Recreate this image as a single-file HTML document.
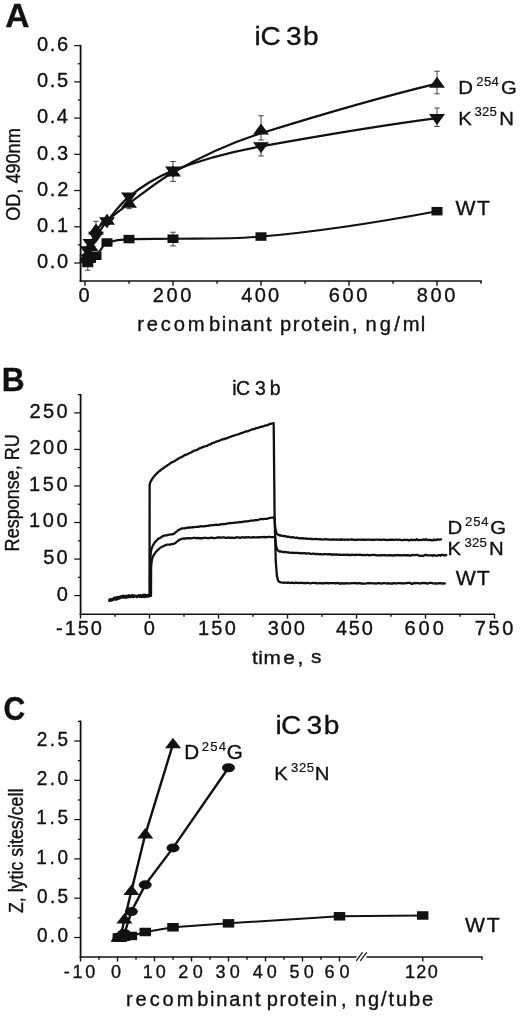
<!DOCTYPE html>
<html><head><meta charset="utf-8"><title>Figure</title>
<style>
html,body{margin:0;padding:0;background:#fff;}
svg{display:block;}
text{font-family:"Liberation Sans",sans-serif;font-kerning:none;white-space:pre;stroke:#111;stroke-width:0.35px;}
</style></head><body>
<svg width="520" height="1020" viewBox="0 0 520 1020">
<rect width="520" height="1020" fill="#fff"/>
<line x1="80.60" y1="44.90" x2="80.60" y2="281.90" stroke="#111" stroke-width="1.8" stroke-linecap="butt"/>
<line x1="79.70" y1="281.00" x2="481.90" y2="281.00" stroke="#111" stroke-width="1.45" stroke-linecap="butt"/>
<line x1="74.20" y1="263.00" x2="80.60" y2="263.00" stroke="#111" stroke-width="1.25" stroke-linecap="butt"/>
<line x1="74.20" y1="226.77" x2="80.60" y2="226.77" stroke="#111" stroke-width="1.25" stroke-linecap="butt"/>
<line x1="74.20" y1="190.54" x2="80.60" y2="190.54" stroke="#111" stroke-width="1.25" stroke-linecap="butt"/>
<line x1="74.20" y1="154.31" x2="80.60" y2="154.31" stroke="#111" stroke-width="1.25" stroke-linecap="butt"/>
<line x1="74.20" y1="118.08" x2="80.60" y2="118.08" stroke="#111" stroke-width="1.25" stroke-linecap="butt"/>
<line x1="74.20" y1="81.85" x2="80.60" y2="81.85" stroke="#111" stroke-width="1.25" stroke-linecap="butt"/>
<line x1="74.20" y1="45.62" x2="80.60" y2="45.62" stroke="#111" stroke-width="1.25" stroke-linecap="butt"/>
<line x1="77.80" y1="244.88" x2="80.60" y2="244.88" stroke="#111" stroke-width="1.25" stroke-linecap="butt"/>
<line x1="77.80" y1="208.65" x2="80.60" y2="208.65" stroke="#111" stroke-width="1.25" stroke-linecap="butt"/>
<line x1="77.80" y1="172.43" x2="80.60" y2="172.43" stroke="#111" stroke-width="1.25" stroke-linecap="butt"/>
<line x1="77.80" y1="136.19" x2="80.60" y2="136.19" stroke="#111" stroke-width="1.25" stroke-linecap="butt"/>
<line x1="77.80" y1="99.97" x2="80.60" y2="99.97" stroke="#111" stroke-width="1.25" stroke-linecap="butt"/>
<line x1="77.80" y1="63.73" x2="80.60" y2="63.73" stroke="#111" stroke-width="1.25" stroke-linecap="butt"/>
<line x1="85.00" y1="281.00" x2="85.00" y2="285.70" stroke="#111" stroke-width="1.4" stroke-linecap="butt"/>
<line x1="173.00" y1="281.00" x2="173.00" y2="285.70" stroke="#111" stroke-width="1.4" stroke-linecap="butt"/>
<line x1="261.00" y1="281.00" x2="261.00" y2="285.70" stroke="#111" stroke-width="1.4" stroke-linecap="butt"/>
<line x1="349.00" y1="281.00" x2="349.00" y2="285.70" stroke="#111" stroke-width="1.4" stroke-linecap="butt"/>
<line x1="437.00" y1="281.00" x2="437.00" y2="285.70" stroke="#111" stroke-width="1.4" stroke-linecap="butt"/>
<line x1="129.00" y1="281.00" x2="129.00" y2="283.80" stroke="#111" stroke-width="1.4" stroke-linecap="butt"/>
<line x1="217.00" y1="281.00" x2="217.00" y2="283.80" stroke="#111" stroke-width="1.4" stroke-linecap="butt"/>
<line x1="305.00" y1="281.00" x2="305.00" y2="283.80" stroke="#111" stroke-width="1.4" stroke-linecap="butt"/>
<line x1="393.00" y1="281.00" x2="393.00" y2="283.80" stroke="#111" stroke-width="1.4" stroke-linecap="butt"/>
<line x1="481.00" y1="281.00" x2="481.00" y2="283.80" stroke="#111" stroke-width="1.4" stroke-linecap="butt"/>
<text transform="translate(36.97,268.40) scale(1.0000,1)" font-size="20" font-weight="normal" letter-spacing="1.630" fill="#111" >0.0</text>
<text transform="translate(36.97,232.17) scale(1.0000,1)" font-size="20" font-weight="normal" letter-spacing="1.728" fill="#111" >0.1</text>
<text transform="translate(36.97,195.94) scale(1.0000,1)" font-size="20" font-weight="normal" letter-spacing="1.742" fill="#111" >0.2</text>
<text transform="translate(36.97,159.71) scale(1.0000,1)" font-size="20" font-weight="normal" letter-spacing="1.679" fill="#111" >0.3</text>
<text transform="translate(36.97,123.48) scale(1.0000,1)" font-size="20" font-weight="normal" letter-spacing="1.532" fill="#111" >0.4</text>
<text transform="translate(36.97,87.25) scale(1.0000,1)" font-size="20" font-weight="normal" letter-spacing="1.659" fill="#111" >0.5</text>
<text transform="translate(36.97,51.02) scale(1.0000,1)" font-size="20" font-weight="normal" letter-spacing="1.679" fill="#111" >0.6</text>
<text transform="translate(78.44,302.30) scale(1.0000,1)" font-size="20" font-weight="normal" letter-spacing="0.000" fill="#111" >0</text>
<text transform="translate(152.79,302.30) scale(1.0000,1)" font-size="20" font-weight="normal" letter-spacing="2.609" fill="#111" >200</text>
<text transform="translate(241.34,302.30) scale(1.0000,1)" font-size="20" font-weight="normal" letter-spacing="2.236" fill="#111" >400</text>
<text transform="translate(328.78,302.30) scale(1.0000,1)" font-size="20" font-weight="normal" letter-spacing="2.614" fill="#111" >600</text>
<text transform="translate(416.73,302.30) scale(1.0000,1)" font-size="20" font-weight="normal" letter-spacing="2.641" fill="#111" >800</text>
<text transform="scale(1.04,1)" font-weight="normal" fill="#111" ><tspan x="131.88" y="330.60" font-size="19.4" letter-spacing="2.744">recom</tspan><tspan x="201.06" y="330.60" font-size="19.4" letter-spacing="1.433">binant prot</tspan><tspan x="308.89" y="330.60" font-size="19.4" letter-spacing="0.598">ein</tspan><tspan x="338.36" y="330.60" font-size="19.4" letter-spacing="0.000">, </tspan><tspan x="351.50" y="330.60" font-size="19.4" letter-spacing="2.954">ng/m</tspan><tspan x="404.57" y="330.60" font-size="19.4" letter-spacing="0.000">l</tspan></text>
<text transform="translate(19.80,220.00) rotate(-90) translate(-0.86,0.00) scale(0.9060,1)" font-size="20" font-weight="normal" letter-spacing="0.000" fill="#111" >OD, 490nm</text>
<text transform="scale(1.08,1)" font-weight="normal" fill="#111" ><tspan x="235.67" y="45.10" font-size="26" letter-spacing="-0.342">iC</tspan><tspan x="264.79" y="45.10" font-size="26" letter-spacing="0.000">3</tspan><tspan x="280.63" y="45.10" font-size="26" letter-spacing="0.000">b</tspan></text>
<text transform="translate(5.16,26.50) scale(1.0011,1)" font-size="33.5" font-weight="bold" letter-spacing="0.000" fill="#111" >A</text>
<line x1="437.00" y1="71.25" x2="437.00" y2="93.75" stroke="#333" stroke-width="0.9" stroke-linecap="butt"/>
<line x1="434.25" y1="71.25" x2="439.75" y2="71.25" stroke="#333" stroke-width="0.9" stroke-linecap="butt"/>
<line x1="434.25" y1="93.75" x2="439.75" y2="93.75" stroke="#333" stroke-width="0.9" stroke-linecap="butt"/>
<line x1="437.00" y1="108.00" x2="437.00" y2="126.50" stroke="#333" stroke-width="0.9" stroke-linecap="butt"/>
<line x1="434.25" y1="108.00" x2="439.75" y2="108.00" stroke="#333" stroke-width="0.9" stroke-linecap="butt"/>
<line x1="434.25" y1="126.50" x2="439.75" y2="126.50" stroke="#333" stroke-width="0.9" stroke-linecap="butt"/>
<line x1="261.00" y1="115.75" x2="261.00" y2="140.00" stroke="#333" stroke-width="0.9" stroke-linecap="butt"/>
<line x1="258.25" y1="115.75" x2="263.75" y2="115.75" stroke="#333" stroke-width="0.9" stroke-linecap="butt"/>
<line x1="258.25" y1="140.00" x2="263.75" y2="140.00" stroke="#333" stroke-width="0.9" stroke-linecap="butt"/>
<line x1="261.00" y1="143.00" x2="261.00" y2="156.00" stroke="#333" stroke-width="0.9" stroke-linecap="butt"/>
<line x1="258.25" y1="143.00" x2="263.75" y2="143.00" stroke="#333" stroke-width="0.9" stroke-linecap="butt"/>
<line x1="258.25" y1="156.00" x2="263.75" y2="156.00" stroke="#333" stroke-width="0.9" stroke-linecap="butt"/>
<line x1="173.00" y1="161.56" x2="173.00" y2="181.48" stroke="#333" stroke-width="0.9" stroke-linecap="butt"/>
<line x1="170.25" y1="161.56" x2="175.75" y2="161.56" stroke="#333" stroke-width="0.9" stroke-linecap="butt"/>
<line x1="170.25" y1="181.48" x2="175.75" y2="181.48" stroke="#333" stroke-width="0.9" stroke-linecap="butt"/>
<line x1="173.00" y1="232.20" x2="173.00" y2="245.97" stroke="#333" stroke-width="0.9" stroke-linecap="butt"/>
<line x1="170.25" y1="232.20" x2="175.75" y2="232.20" stroke="#333" stroke-width="0.9" stroke-linecap="butt"/>
<line x1="170.25" y1="245.97" x2="175.75" y2="245.97" stroke="#333" stroke-width="0.9" stroke-linecap="butt"/>
<line x1="129.00" y1="235.83" x2="129.00" y2="241.99" stroke="#333" stroke-width="0.9" stroke-linecap="butt"/>
<line x1="126.25" y1="235.83" x2="131.75" y2="235.83" stroke="#333" stroke-width="0.9" stroke-linecap="butt"/>
<line x1="126.25" y1="241.99" x2="131.75" y2="241.99" stroke="#333" stroke-width="0.9" stroke-linecap="butt"/>
<line x1="129.00" y1="194.16" x2="129.00" y2="208.66" stroke="#333" stroke-width="0.9" stroke-linecap="butt"/>
<line x1="126.25" y1="194.16" x2="131.75" y2="194.16" stroke="#333" stroke-width="0.9" stroke-linecap="butt"/>
<line x1="126.25" y1="208.66" x2="131.75" y2="208.66" stroke="#333" stroke-width="0.9" stroke-linecap="butt"/>
<line x1="96.00" y1="221.34" x2="96.00" y2="237.64" stroke="#333" stroke-width="0.9" stroke-linecap="butt"/>
<line x1="93.25" y1="221.34" x2="98.75" y2="221.34" stroke="#333" stroke-width="0.9" stroke-linecap="butt"/>
<line x1="93.25" y1="237.64" x2="98.75" y2="237.64" stroke="#333" stroke-width="0.9" stroke-linecap="butt"/>
<line x1="87.75" y1="255.75" x2="87.75" y2="270.25" stroke="#333" stroke-width="0.9" stroke-linecap="butt"/>
<line x1="85.00" y1="255.75" x2="90.50" y2="255.75" stroke="#333" stroke-width="0.9" stroke-linecap="butt"/>
<line x1="85.00" y1="270.25" x2="90.50" y2="270.25" stroke="#333" stroke-width="0.9" stroke-linecap="butt"/>
<path d="M80.60,261.91 C82.98,263.00 85.37,263.00 87.75,263.00 C88.67,263.00 89.58,259.42 90.50,258.65 C92.33,257.12 94.17,257.04 96.00,255.75 C99.67,253.18 103.33,243.59 107.00,242.49 C114.33,240.29 121.67,239.22 129.00,239.09 C143.67,238.83 158.33,238.90 173.00,238.73 C202.33,238.38 231.67,239.09 261.00,236.55 C319.67,231.49 378.33,222.21 437.00,211.19" fill="none" stroke="#111" stroke-width="2.1" stroke-linejoin="round" stroke-linecap="round"/>
<path d="M80.60,260.10 C82.98,260.10 85.37,258.48 87.75,255.75 C88.67,254.71 89.58,249.57 90.50,246.70 C92.33,240.94 94.17,233.06 96.00,230.39 C99.67,225.06 103.33,223.67 107.00,220.61 C114.33,214.49 121.67,209.03 129.00,203.58 C143.67,192.68 158.33,180.65 173.00,172.43 C202.33,155.98 231.67,142.41 261.00,133.30 C319.67,115.06 378.33,97.66 437.00,83.66" fill="none" stroke="#111" stroke-width="2.2" stroke-linejoin="round" stroke-linecap="round"/>
<path d="M80.60,255.75 C82.98,255.75 85.37,253.38 87.75,250.32 C88.67,249.14 89.58,244.75 90.50,243.07 C92.33,239.73 94.17,238.24 96.00,235.83 C99.67,231.00 103.33,225.81 107.00,221.34 C114.33,212.38 121.67,202.59 129.00,196.70 C143.67,184.93 158.33,176.37 173.00,170.61 C202.33,159.10 231.67,151.62 261.00,146.34 C319.67,135.78 378.33,125.70 437.00,118.08" fill="none" stroke="#111" stroke-width="2.2" stroke-linejoin="round" stroke-linecap="round"/>
<rect x="82.25" y="258.75" width="11" height="8.5" fill="#111"/>
<rect x="85.00" y="254.40" width="11" height="8.5" fill="#111"/>
<rect x="90.50" y="251.50" width="11" height="8.5" fill="#111"/>
<rect x="101.50" y="238.24" width="11" height="8.5" fill="#111"/>
<rect x="123.50" y="234.84" width="11" height="8.5" fill="#111"/>
<rect x="167.50" y="234.48" width="11" height="8.5" fill="#111"/>
<rect x="255.50" y="232.30" width="11" height="8.5" fill="#111"/>
<rect x="431.50" y="206.94" width="11" height="8.5" fill="#111"/>
<polygon points="87.75,248.93 95.75,259.93 79.75,259.93" fill="#111"/>
<polygon points="90.50,239.88 98.50,250.88 82.50,250.88" fill="#111"/>
<polygon points="96.00,223.57 104.00,234.57 88.00,234.57" fill="#111"/>
<polygon points="107.00,213.79 115.00,224.79 99.00,224.79" fill="#111"/>
<polygon points="129.00,196.76 137.00,207.76 121.00,207.76" fill="#111"/>
<polygon points="173.00,165.61 181.00,176.61 165.00,176.61" fill="#111"/>
<polygon points="261.00,123.58 269.00,134.58 253.00,134.58" fill="#111"/>
<polygon points="437.00,76.84 445.00,87.84 429.00,87.84" fill="#111"/>
<polygon points="87.75,257.14 95.75,246.14 79.75,246.14" fill="#111"/>
<polygon points="90.50,249.89 98.50,238.89 82.50,238.89" fill="#111"/>
<polygon points="96.00,242.65 104.00,231.65 88.00,231.65" fill="#111"/>
<polygon points="107.00,228.16 115.00,217.16 99.00,217.16" fill="#111"/>
<polygon points="129.00,203.52 137.00,192.52 121.00,192.52" fill="#111"/>
<polygon points="173.00,177.43 181.00,166.43 165.00,166.43" fill="#111"/>
<polygon points="261.00,153.16 269.00,142.16 253.00,142.16" fill="#111"/>
<polygon points="437.00,124.90 445.00,113.90 429.00,113.90" fill="#111"/>
<text transform="scale(1.06,1)" font-weight="normal" fill="#111" ><tspan x="432.39" y="93.70" font-size="19.2" letter-spacing="0.000">D</tspan><tspan x="449.28" y="85.80" font-size="12.4" letter-spacing="0.338" style="stroke-width:0.2px">254</tspan><tspan x="472.73" y="93.70" font-size="19.2" letter-spacing="0.000">G</tspan></text>
<text transform="scale(1.06,1)" font-weight="normal" fill="#111" ><tspan x="432.39" y="124.70" font-size="19.2" letter-spacing="0.000">K</tspan><tspan x="447.74" y="116.50" font-size="12.4" letter-spacing="0.105" style="stroke-width:0.2px">325</tspan><tspan x="471.00" y="124.70" font-size="19.2" letter-spacing="0.000">N</tspan></text>
<text transform="translate(455.41,215.00) scale(1.0600,1)" font-size="20" font-weight="normal" letter-spacing="1.529" fill="#111" >WT</text>
<line x1="80.60" y1="394.00" x2="80.60" y2="615.10" stroke="#111" stroke-width="1.8" stroke-linecap="butt"/>
<line x1="79.70" y1="614.20" x2="495.20" y2="614.20" stroke="#111" stroke-width="1.45" stroke-linecap="butt"/>
<line x1="74.20" y1="595.60" x2="80.60" y2="595.60" stroke="#111" stroke-width="1.25" stroke-linecap="butt"/>
<line x1="74.20" y1="559.06" x2="80.60" y2="559.06" stroke="#111" stroke-width="1.25" stroke-linecap="butt"/>
<line x1="74.20" y1="522.52" x2="80.60" y2="522.52" stroke="#111" stroke-width="1.25" stroke-linecap="butt"/>
<line x1="74.20" y1="485.98" x2="80.60" y2="485.98" stroke="#111" stroke-width="1.25" stroke-linecap="butt"/>
<line x1="74.20" y1="449.44" x2="80.60" y2="449.44" stroke="#111" stroke-width="1.25" stroke-linecap="butt"/>
<line x1="74.20" y1="412.90" x2="80.60" y2="412.90" stroke="#111" stroke-width="1.25" stroke-linecap="butt"/>
<line x1="77.80" y1="577.33" x2="80.60" y2="577.33" stroke="#111" stroke-width="1.25" stroke-linecap="butt"/>
<line x1="77.80" y1="540.79" x2="80.60" y2="540.79" stroke="#111" stroke-width="1.25" stroke-linecap="butt"/>
<line x1="77.80" y1="504.25" x2="80.60" y2="504.25" stroke="#111" stroke-width="1.25" stroke-linecap="butt"/>
<line x1="77.80" y1="467.71" x2="80.60" y2="467.71" stroke="#111" stroke-width="1.25" stroke-linecap="butt"/>
<line x1="77.80" y1="431.17" x2="80.60" y2="431.17" stroke="#111" stroke-width="1.25" stroke-linecap="butt"/>
<line x1="77.80" y1="394.63" x2="80.60" y2="394.63" stroke="#111" stroke-width="1.25" stroke-linecap="butt"/>
<line x1="80.50" y1="614.20" x2="80.50" y2="618.60" stroke="#111" stroke-width="1.4" stroke-linecap="butt"/>
<line x1="149.50" y1="614.20" x2="149.50" y2="618.60" stroke="#111" stroke-width="1.4" stroke-linecap="butt"/>
<line x1="218.50" y1="614.20" x2="218.50" y2="618.60" stroke="#111" stroke-width="1.4" stroke-linecap="butt"/>
<line x1="287.50" y1="614.20" x2="287.50" y2="618.60" stroke="#111" stroke-width="1.4" stroke-linecap="butt"/>
<line x1="356.50" y1="614.20" x2="356.50" y2="618.60" stroke="#111" stroke-width="1.4" stroke-linecap="butt"/>
<line x1="425.50" y1="614.20" x2="425.50" y2="618.60" stroke="#111" stroke-width="1.4" stroke-linecap="butt"/>
<line x1="494.50" y1="614.20" x2="494.50" y2="618.60" stroke="#111" stroke-width="1.4" stroke-linecap="butt"/>
<line x1="115.00" y1="614.20" x2="115.00" y2="616.80" stroke="#111" stroke-width="1.4" stroke-linecap="butt"/>
<line x1="184.00" y1="614.20" x2="184.00" y2="616.80" stroke="#111" stroke-width="1.4" stroke-linecap="butt"/>
<line x1="253.00" y1="614.20" x2="253.00" y2="616.80" stroke="#111" stroke-width="1.4" stroke-linecap="butt"/>
<line x1="322.00" y1="614.20" x2="322.00" y2="616.80" stroke="#111" stroke-width="1.4" stroke-linecap="butt"/>
<line x1="391.00" y1="614.20" x2="391.00" y2="616.80" stroke="#111" stroke-width="1.4" stroke-linecap="butt"/>
<line x1="460.00" y1="614.20" x2="460.00" y2="616.80" stroke="#111" stroke-width="1.4" stroke-linecap="butt"/>
<text transform="translate(29.59,417.80) scale(1.0000,1)" font-size="20" font-weight="normal" letter-spacing="2.359" fill="#111" >250</text>
<text transform="translate(29.59,454.34) scale(1.0000,1)" font-size="20" font-weight="normal" letter-spacing="2.359" fill="#111" >200</text>
<text transform="translate(29.08,490.88) scale(1.0000,1)" font-size="20" font-weight="normal" letter-spacing="2.618" fill="#111" >150</text>
<text transform="translate(29.08,527.42) scale(1.0000,1)" font-size="20" font-weight="normal" letter-spacing="2.618" fill="#111" >100</text>
<text transform="translate(43.20,563.96) scale(1.0000,1)" font-size="20" font-weight="normal" letter-spacing="2.236" fill="#111" >50</text>
<text transform="translate(56.64,600.50) scale(1.0000,1)" font-size="20" font-weight="normal" letter-spacing="0.000" fill="#111" >0</text>
<text transform="translate(56.11,634.60) scale(1.0000,1)" font-size="20" font-weight="normal" letter-spacing="1.880" fill="#111" >-150</text>
<text transform="translate(143.69,634.60) scale(1.0000,1)" font-size="20" font-weight="normal" letter-spacing="0.000" fill="#111" >0</text>
<text transform="translate(197.98,634.60) scale(1.0000,1)" font-size="20" font-weight="normal" letter-spacing="2.218" fill="#111" >150</text>
<text transform="translate(267.74,634.60) scale(1.0000,1)" font-size="20" font-weight="normal" letter-spacing="1.837" fill="#111" >300</text>
<text transform="translate(336.04,634.60) scale(1.0000,1)" font-size="20" font-weight="normal" letter-spacing="1.686" fill="#111" >450</text>
<text transform="translate(404.48,634.60) scale(1.0000,1)" font-size="20" font-weight="normal" letter-spacing="2.964" fill="#111" >600</text>
<text transform="translate(474.72,634.60) scale(1.0000,1)" font-size="20" font-weight="normal" letter-spacing="2.594" fill="#111" >750</text>
<text transform="scale(1.12,1)" font-weight="normal" fill="#111" ><tspan x="225.08" y="663.60" font-size="18.6" letter-spacing="0.410">tim</tspan><tspan x="252.88" y="663.60" font-size="18.6" letter-spacing="0.000">e</tspan><tspan x="265.59" y="663.60" font-size="18.6" letter-spacing="0.000">, </tspan><tspan x="277.70" y="663.50" font-size="18.6" letter-spacing="0.000">s</tspan></text>
<text transform="translate(18.55,549.90) rotate(-90) translate(-1.48,0.00) scale(0.9017,1)" font-size="20" font-weight="normal" letter-spacing="0.000" fill="#111" >Response, RU</text>
<text transform="scale(1.0,1)" font-weight="normal" fill="#111" ><tspan x="232.20" y="394.60" font-size="19.5" letter-spacing="-0.467">iC</tspan><tspan x="255.03" y="394.60" font-size="19.5" letter-spacing="0.000">3</tspan><tspan x="269.66" y="394.60" font-size="19.5" letter-spacing="0.000">b</tspan></text>
<text transform="translate(1.63,391.25) scale(0.9471,1)" font-size="33.5" font-weight="bold" letter-spacing="0.000" fill="#111" >B</text>
<path d="M109.48,599.40 L110.40,599.56 L111.32,599.04 L112.24,599.10 L113.16,598.86 L114.08,597.80 L115.00,597.46 L115.92,598.34 L116.84,597.26 L117.76,596.96 L118.68,597.75 L119.60,596.75 L120.52,596.99 L121.44,596.21 L122.36,596.29 L123.28,595.57 L124.20,596.21 L125.12,596.50 L126.04,595.98 L126.96,596.25 L127.88,596.11 L128.80,595.23 L129.72,596.16 L130.64,595.89 L131.56,595.45 L132.48,595.03 L133.40,596.17 L134.32,595.58 L135.24,595.89 L136.16,596.08 L137.08,595.81 L138.00,596.06 L138.92,595.29 L139.84,595.82 L140.76,595.28 L141.68,595.94 L142.60,595.82 L143.52,594.69 L144.44,594.71 L145.36,594.78 L146.28,595.79 L147.20,595.02 L148.12,595.25 L149.04,594.76 L149.50,595.02 L149.64,484.68 L149.96,483.40 L150.42,482.14 L150.88,481.15 L151.34,480.28 L152.26,478.80 L153.18,477.52 L154.10,476.38 L155.02,475.33 L156.40,473.88 L157.78,472.49 L159.16,471.23 L160.54,470.21 L161.92,469.11 L163.30,468.26 L164.68,467.12 L166.06,466.31 L167.44,465.33 L168.82,464.51 L170.20,463.45 L171.58,462.30 L172.96,461.89 L174.34,461.15 L175.72,460.32 L177.10,459.35 L178.48,458.69 L179.86,457.65 L181.24,457.30 L182.62,456.44 L184.00,455.57 L185.38,454.75 L186.76,454.55 L188.14,453.97 L189.52,452.78 L190.90,452.56 L192.28,451.69 L193.66,450.91 L195.04,450.38 L196.42,450.06 L197.80,449.52 L199.18,448.43 L200.56,448.18 L201.94,447.26 L203.32,447.09 L204.70,446.29 L206.08,446.06 L207.46,445.56 L208.84,444.73 L210.22,444.48 L211.60,443.53 L212.98,442.86 L214.36,442.64 L215.74,441.78 L217.12,441.36 L218.50,440.97 L219.88,440.58 L221.26,439.80 L222.64,439.23 L224.02,439.23 L225.40,438.40 L226.78,438.30 L228.16,437.78 L229.54,436.98 L230.92,436.55 L232.30,436.11 L233.68,435.71 L235.06,435.22 L236.44,434.73 L237.82,434.30 L239.20,434.04 L240.58,433.32 L241.96,432.82 L243.34,432.54 L244.72,431.81 L246.10,431.40 L247.48,431.36 L248.86,430.65 L250.24,430.23 L251.62,429.47 L253.00,429.28 L254.38,428.95 L255.76,428.19 L257.14,428.12 L258.52,427.71 L259.90,426.95 L261.28,426.87 L262.66,426.36 L264.04,426.07 L265.42,425.47 L266.80,425.27 L268.18,424.88 L269.56,424.05 L270.94,423.67 L272.32,423.64 L273.70,423.13 L274.62,518.27 L275.77,561.66 L276.92,575.87 L278.07,580.50 L279.22,581.81 L280.37,582.33 L281.52,582.48 L282.67,582.59 L283.82,582.76 L284.97,582.62 L286.12,582.69 L287.27,582.95 L288.42,582.52 L289.57,582.87 L290.72,582.99 L291.87,582.75 L293.02,582.72 L294.17,583.09 L295.32,582.77 L296.47,582.75 L297.62,582.92 L298.77,583.09 L299.92,582.74 L301.07,582.89 L302.22,582.91 L303.37,583.22 L304.52,583.00 L305.67,583.26 L306.82,582.86 L307.97,582.97 L309.12,583.17 L310.27,583.32 L311.42,583.07 L312.57,582.94 L313.72,582.89 L314.87,583.14 L316.02,582.95 L317.17,583.33 L318.32,583.35 L319.47,582.97 L320.62,583.03 L321.77,583.35 L322.92,583.26 L324.07,583.36 L325.22,583.09 L326.37,582.97 L327.52,583.07 L328.67,583.38 L329.82,583.07 L330.97,583.12 L332.12,583.17 L333.27,583.17 L334.42,583.17 L335.57,583.48 L336.72,583.03 L337.87,582.94 L339.02,583.51 L340.17,583.47 L341.32,583.54 L342.47,583.21 L343.62,583.52 L344.77,583.51 L345.92,583.09 L347.07,583.41 L348.22,583.47 L349.37,583.36 L350.52,583.28 L351.67,583.14 L352.82,583.18 L353.97,583.11 L355.12,583.02 L356.27,583.33 L357.42,583.15 L358.57,583.47 L359.72,583.01 L360.87,583.53 L362.02,583.40 L363.17,583.54 L364.32,583.53 L365.47,583.53 L366.62,583.34 L367.77,583.00 L368.92,583.44 L370.07,583.10 L371.22,583.18 L372.37,583.40 L373.52,583.31 L374.67,583.25 L375.82,583.56 L376.97,583.37 L378.12,583.21 L379.27,583.15 L380.42,583.52 L381.57,583.29 L382.72,583.48 L383.87,583.22 L385.02,583.13 L386.17,583.33 L387.32,583.50 L388.47,583.11 L389.62,583.48 L390.77,583.56 L391.92,583.49 L393.07,583.51 L394.22,583.02 L395.37,583.39 L396.52,583.53 L397.67,583.04 L398.82,583.18 L399.97,583.17 L401.12,583.33 L402.27,583.27 L403.42,583.30 L404.57,583.48 L405.72,583.02 L406.87,583.05 L408.02,582.87 L409.17,582.87 L410.32,582.80 L411.47,583.89 L412.62,583.74 L413.77,582.82 L414.92,583.32 L416.07,583.10 L417.22,583.10 L418.37,583.14 L419.52,583.49 L420.67,583.42 L421.82,583.15 L422.97,582.95 L424.12,583.11 L425.27,582.87 L426.42,583.39 L427.57,583.58 L428.72,583.18 L429.87,582.82 L431.02,582.93 L432.17,583.17 L433.32,583.45 L434.47,583.66 L435.62,583.18 L436.77,583.68 L437.92,583.47 L439.07,583.24 L440.22,583.17 L441.37,583.32 L442.52,583.56 L443.67,583.23 L444.82,583.55" fill="none" stroke="#111" stroke-width="2.3" stroke-linejoin="round" stroke-linecap="round"/>
<path d="M109.48,600.88 L110.40,600.31 L111.32,600.44 L112.24,600.40 L113.16,599.25 L114.08,599.48 L115.00,599.21 L115.92,599.57 L116.84,599.38 L117.76,598.32 L118.68,598.79 L119.60,598.36 L120.52,597.35 L121.44,597.37 L122.36,596.73 L123.28,597.66 L124.20,597.42 L125.12,597.70 L126.04,597.53 L126.96,597.31 L127.88,597.37 L128.80,597.10 L129.72,596.41 L130.64,597.06 L131.56,596.20 L132.48,596.36 L133.40,597.21 L134.32,596.15 L135.24,596.18 L136.16,596.15 L137.08,597.21 L138.00,596.19 L138.92,595.94 L139.84,597.05 L140.76,596.00 L141.68,596.98 L142.60,596.70 L143.52,596.89 L144.44,597.02 L145.36,596.46 L146.28,596.73 L147.20,595.63 L148.12,596.61 L149.04,596.22 L150.24,596.18 L150.37,559.06 L150.70,553.21 L151.16,550.29 L151.62,548.61 L152.08,547.37 L153.00,545.33 L153.92,543.71 L154.84,542.34 L155.76,541.23 L157.14,540.06 L158.52,538.63 L159.90,538.08 L161.28,537.35 L162.66,536.14 L164.04,535.75 L165.42,535.46 L166.80,535.33 L168.18,534.77 L169.56,534.53 L170.94,534.38 L172.32,534.31 L173.70,533.86 L175.08,532.79 L176.46,531.57 L177.84,530.55 L179.22,529.61 L180.60,529.03 L181.98,528.41 L183.36,528.36 L184.74,528.40 L186.12,527.85 L187.50,527.87 L188.88,527.35 L190.26,527.52 L191.64,527.42 L193.02,527.24 L194.40,527.03 L195.78,526.89 L197.16,526.87 L198.54,526.91 L199.92,526.34 L201.30,526.18 L202.68,526.44 L204.06,526.40 L205.44,526.02 L206.82,525.83 L208.20,525.86 L209.58,525.39 L210.96,525.29 L212.34,525.10 L213.72,525.19 L215.10,524.88 L216.48,524.68 L217.86,524.80 L219.24,524.81 L220.62,524.26 L222.00,524.35 L223.38,524.02 L224.76,524.13 L226.14,523.81 L227.52,523.46 L228.90,523.27 L230.28,522.99 L231.66,523.10 L233.04,522.88 L234.42,522.59 L235.80,522.54 L237.18,522.35 L238.56,522.45 L239.94,521.91 L241.32,522.25 L242.70,521.77 L244.08,521.66 L245.46,521.40 L246.84,521.44 L248.22,521.25 L249.60,520.90 L250.98,520.67 L252.36,520.62 L253.74,520.51 L255.12,520.04 L256.50,520.05 L257.88,519.99 L259.26,519.50 L260.64,519.17 L262.02,518.98 L263.40,519.08 L264.78,518.87 L266.16,518.86 L267.54,518.61 L268.92,518.07 L270.30,517.86 L271.68,517.73 L273.06,517.52 L274.44,517.55 L275.36,528.72 L276.51,533.15 L277.66,534.61 L278.81,534.83 L279.96,535.54 L281.11,535.48 L282.26,535.78 L283.41,536.19 L284.56,536.01 L285.71,536.20 L286.86,536.83 L288.01,536.68 L289.16,536.88 L290.31,537.17 L291.46,537.38 L292.61,537.11 L293.76,537.44 L294.91,537.63 L296.06,537.77 L297.21,537.72 L298.36,538.05 L299.51,538.37 L300.66,538.13 L301.81,538.31 L302.96,538.14 L304.11,538.31 L305.26,538.62 L306.41,538.36 L307.56,538.89 L308.71,538.97 L309.86,538.54 L311.01,539.11 L312.16,538.82 L313.31,539.11 L314.46,539.15 L315.61,538.92 L316.76,539.19 L317.91,539.22 L319.06,539.35 L320.21,539.06 L321.36,539.39 L322.51,539.54 L323.66,539.40 L324.81,539.35 L325.96,539.12 L327.11,539.38 L328.26,539.32 L329.41,539.56 L330.56,539.56 L331.71,539.51 L332.86,539.30 L334.01,539.60 L335.16,539.61 L336.31,539.35 L337.46,539.80 L338.61,539.67 L339.76,539.36 L340.91,539.86 L342.06,539.40 L343.21,539.53 L344.36,539.77 L345.51,539.71 L346.66,539.69 L347.81,539.76 L348.96,539.65 L350.11,539.58 L351.26,539.50 L352.41,539.45 L353.56,539.84 L354.71,539.87 L355.86,539.75 L357.01,539.88 L358.16,539.65 L359.31,539.60 L360.46,539.68 L361.61,539.98 L362.76,539.48 L363.91,539.77 L365.06,539.61 L366.21,539.93 L367.36,539.69 L368.51,539.68 L369.66,539.72 L370.81,539.81 L371.96,539.95 L373.11,539.70 L374.26,540.00 L375.41,539.56 L376.56,539.66 L377.71,539.56 L378.86,539.57 L380.01,539.97 L381.16,539.94 L382.31,539.62 L383.46,539.62 L384.61,539.76 L385.76,539.96 L386.91,540.00 L388.06,539.97 L389.21,539.87 L390.36,539.61 L391.51,539.76 L392.66,539.64 L393.81,539.84 L394.96,539.86 L396.11,539.64 L397.26,539.67 L398.41,539.99 L399.56,539.54 L400.71,540.01 L401.86,540.06 L403.01,540.10 L404.16,539.76 L405.31,539.86 L406.46,539.88 L407.61,539.91 L408.76,540.40 L409.91,540.06 L411.06,539.59 L412.21,540.26 L413.36,539.81 L414.51,539.95 L415.66,540.11 L416.81,539.24 L417.96,540.16 L419.11,540.03 L420.26,539.83 L421.41,539.86 L422.56,539.79 L423.71,539.47 L424.86,539.87 L426.01,539.28 L427.16,539.84 L428.31,540.01 L429.46,539.77 L430.61,539.92 L431.76,540.39 L432.91,540.31 L434.06,539.40 L435.21,540.19 L436.36,539.99 L437.51,539.30 L438.66,539.67 L439.81,539.52 L440.96,539.33" fill="none" stroke="#111" stroke-width="2.3" stroke-linejoin="round" stroke-linecap="round"/>
<path d="M109.48,600.40 L110.40,600.68 L111.32,599.56 L112.24,600.06 L113.16,599.54 L114.08,598.48 L115.00,599.23 L115.92,598.60 L116.84,598.78 L117.76,598.22 L118.68,597.98 L119.60,597.15 L120.52,597.53 L121.44,597.44 L122.36,597.18 L123.28,596.55 L124.20,596.96 L125.12,596.55 L126.04,595.98 L126.96,595.86 L127.88,595.87 L128.80,596.00 L129.72,595.91 L130.64,596.35 L131.56,596.59 L132.48,596.33 L133.40,596.13 L134.32,596.41 L135.24,595.89 L136.16,596.08 L137.08,596.45 L138.00,595.92 L138.92,595.57 L139.84,596.54 L140.76,596.25 L141.68,595.72 L142.60,595.69 L143.52,595.88 L144.44,595.94 L145.36,595.38 L146.28,595.03 L147.20,595.28 L148.12,596.05 L149.04,595.12 L150.97,595.60 L151.11,567.83 L151.43,563.44 L151.89,560.01 L152.35,558.16 L152.81,556.87 L153.73,555.01 L154.65,553.58 L155.57,552.31 L156.49,551.24 L157.87,549.88 L159.25,548.58 L160.63,547.62 L162.01,546.77 L163.39,546.21 L164.77,545.44 L166.15,544.85 L167.53,544.65 L168.91,544.54 L170.29,544.58 L171.67,544.17 L173.05,543.89 L174.43,543.56 L175.81,542.64 L177.19,541.63 L178.57,540.25 L179.95,539.63 L181.33,539.05 L182.71,538.46 L184.09,538.85 L185.47,538.27 L186.85,538.10 L188.23,538.27 L189.61,538.05 L190.99,538.29 L192.37,538.09 L193.75,537.93 L195.13,537.87 L196.51,538.25 L197.89,537.96 L199.27,538.25 L200.65,538.04 L202.03,538.30 L203.41,537.90 L204.79,537.85 L206.17,537.83 L207.55,538.14 L208.93,538.01 L210.31,537.81 L211.69,537.64 L213.07,537.97 L214.45,538.13 L215.83,537.88 L217.21,537.50 L218.59,537.50 L219.97,537.52 L221.35,537.54 L222.73,537.44 L224.11,537.43 L225.49,537.77 L226.87,537.90 L228.25,537.46 L229.63,537.91 L231.01,537.59 L232.39,537.77 L233.77,537.82 L235.15,537.81 L236.53,537.25 L237.91,537.39 L239.29,537.55 L240.67,537.74 L242.05,537.20 L243.43,537.31 L244.81,537.62 L246.19,537.16 L247.57,537.30 L248.95,537.25 L250.33,537.44 L251.71,537.57 L253.09,537.09 L254.47,537.41 L255.85,537.39 L257.23,537.43 L258.61,537.24 L259.99,537.44 L261.37,537.08 L262.75,537.09 L264.13,536.95 L265.51,537.26 L266.89,537.06 L268.27,536.91 L269.65,536.82 L271.03,537.13 L272.41,537.04 L273.79,537.07 L275.17,536.92 L276.09,545.95 L277.24,549.79 L278.39,550.76 L279.54,551.52 L280.69,551.31 L281.84,551.72 L282.99,552.01 L284.14,552.08 L285.29,551.83 L286.44,552.02 L287.59,552.48 L288.74,552.46 L289.89,552.69 L291.04,552.78 L292.19,552.61 L293.34,552.97 L294.49,552.95 L295.64,552.79 L296.79,552.89 L297.94,552.79 L299.09,553.06 L300.24,553.46 L301.39,553.02 L302.54,553.36 L303.69,553.15 L304.84,553.20 L305.99,553.60 L307.14,553.41 L308.29,553.35 L309.44,553.47 L310.59,553.82 L311.74,553.83 L312.89,553.54 L314.04,553.72 L315.19,554.21 L316.34,553.81 L317.49,554.06 L318.64,554.01 L319.79,554.27 L320.94,554.20 L322.09,554.35 L323.24,554.24 L324.39,554.07 L325.54,554.10 L326.69,554.07 L327.84,554.55 L328.99,554.16 L330.14,554.14 L331.29,554.73 L332.44,554.30 L333.59,554.75 L334.74,554.29 L335.89,554.54 L337.04,554.42 L338.19,554.81 L339.34,554.71 L340.49,554.75 L341.64,554.84 L342.79,554.93 L343.94,554.64 L345.09,554.81 L346.24,554.74 L347.39,554.56 L348.54,555.01 L349.69,554.88 L350.84,555.03 L351.99,554.69 L353.14,554.90 L354.29,554.87 L355.44,555.05 L356.59,554.67 L357.74,554.85 L358.89,554.95 L360.04,554.71 L361.19,555.01 L362.34,555.14 L363.49,554.96 L364.64,555.11 L365.79,555.10 L366.94,554.87 L368.09,554.97 L369.24,555.36 L370.39,554.98 L371.54,555.04 L372.69,554.85 L373.84,554.94 L374.99,554.91 L376.14,555.38 L377.29,555.27 L378.44,555.37 L379.59,555.44 L380.74,555.22 L381.89,555.42 L383.04,555.19 L384.19,555.13 L385.34,555.46 L386.49,555.43 L387.64,555.47 L388.79,555.20 L389.94,555.38 L391.09,555.16 L392.24,555.52 L393.39,555.48 L394.54,555.11 L395.69,555.50 L396.84,555.06 L397.99,555.01 L399.14,555.39 L400.29,555.14 L401.44,555.28 L402.59,555.35 L403.74,555.00 L404.89,555.42 L406.04,555.15 L407.19,555.24 L408.34,555.20 L409.49,555.58 L410.64,555.59 L411.79,555.04 L412.94,554.83 L414.09,555.06 L415.24,555.20 L416.39,554.80 L417.54,554.90 L418.69,555.63 L419.84,555.56 L420.99,555.89 L422.14,555.90 L423.29,555.78 L424.44,555.18 L425.59,554.93 L426.74,555.11 L427.89,555.29 L429.04,555.37 L430.19,555.39 L431.34,555.17 L432.49,555.77 L433.64,555.09 L434.79,555.30 L435.94,555.81 L437.09,555.72 L438.24,555.11 L439.39,555.05 L440.54,555.72 L441.69,554.77 L442.84,554.92 L443.99,555.40 L445.14,555.41 L446.29,554.96" fill="none" stroke="#111" stroke-width="2.3" stroke-linejoin="round" stroke-linecap="round"/>
<text transform="scale(1.06,1)" font-weight="normal" fill="#111" ><tspan x="422.20" y="534.20" font-size="19.2" letter-spacing="0.000">D</tspan><tspan x="438.72" y="525.80" font-size="12.4" letter-spacing="0.762" style="stroke-width:0.2px">254</tspan><tspan x="462.54" y="534.20" font-size="19.2" letter-spacing="0.000">G</tspan></text>
<text transform="scale(1.06,1)" font-weight="normal" fill="#111" ><tspan x="422.20" y="555.20" font-size="19.2" letter-spacing="0.000">K</tspan><tspan x="438.30" y="546.80" font-size="12.4" letter-spacing="0.105" style="stroke-width:0.2px">325</tspan><tspan x="461.28" y="555.20" font-size="19.2" letter-spacing="0.000">N</tspan></text>
<text transform="translate(455.71,585.30) scale(1.0600,1)" font-size="20" font-weight="normal" letter-spacing="0.963" fill="#111" >WT</text>
<line x1="80.60" y1="720.60" x2="80.60" y2="957.90" stroke="#111" stroke-width="1.8" stroke-linecap="butt"/>
<line x1="79.70" y1="957.00" x2="356.50" y2="957.00" stroke="#111" stroke-width="1.45" stroke-linecap="butt"/>
<line x1="366.50" y1="957.00" x2="482.50" y2="957.00" stroke="#111" stroke-width="1.45" stroke-linecap="butt"/>
<line x1="356.25" y1="960.80" x2="362.50" y2="952.30" stroke="#111" stroke-width="1.2" stroke-linecap="butt"/>
<line x1="360.25" y1="960.80" x2="366.75" y2="952.30" stroke="#111" stroke-width="1.2" stroke-linecap="butt"/>
<line x1="74.20" y1="937.50" x2="80.60" y2="937.50" stroke="#111" stroke-width="1.25" stroke-linecap="butt"/>
<line x1="74.20" y1="898.20" x2="80.60" y2="898.20" stroke="#111" stroke-width="1.25" stroke-linecap="butt"/>
<line x1="74.20" y1="858.90" x2="80.60" y2="858.90" stroke="#111" stroke-width="1.25" stroke-linecap="butt"/>
<line x1="74.20" y1="819.60" x2="80.60" y2="819.60" stroke="#111" stroke-width="1.25" stroke-linecap="butt"/>
<line x1="74.20" y1="780.30" x2="80.60" y2="780.30" stroke="#111" stroke-width="1.25" stroke-linecap="butt"/>
<line x1="74.20" y1="741.00" x2="80.60" y2="741.00" stroke="#111" stroke-width="1.25" stroke-linecap="butt"/>
<line x1="77.80" y1="917.85" x2="80.60" y2="917.85" stroke="#111" stroke-width="1.25" stroke-linecap="butt"/>
<line x1="77.80" y1="878.55" x2="80.60" y2="878.55" stroke="#111" stroke-width="1.25" stroke-linecap="butt"/>
<line x1="77.80" y1="839.25" x2="80.60" y2="839.25" stroke="#111" stroke-width="1.25" stroke-linecap="butt"/>
<line x1="77.80" y1="799.95" x2="80.60" y2="799.95" stroke="#111" stroke-width="1.25" stroke-linecap="butt"/>
<line x1="77.80" y1="760.65" x2="80.60" y2="760.65" stroke="#111" stroke-width="1.25" stroke-linecap="butt"/>
<line x1="77.80" y1="721.35" x2="80.60" y2="721.35" stroke="#111" stroke-width="1.25" stroke-linecap="butt"/>
<line x1="80.50" y1="957.00" x2="80.50" y2="961.50" stroke="#111" stroke-width="1.4" stroke-linecap="butt"/>
<line x1="117.50" y1="957.00" x2="117.50" y2="961.50" stroke="#111" stroke-width="1.4" stroke-linecap="butt"/>
<line x1="154.50" y1="957.00" x2="154.50" y2="961.50" stroke="#111" stroke-width="1.4" stroke-linecap="butt"/>
<line x1="191.50" y1="957.00" x2="191.50" y2="961.50" stroke="#111" stroke-width="1.4" stroke-linecap="butt"/>
<line x1="228.50" y1="957.00" x2="228.50" y2="961.50" stroke="#111" stroke-width="1.4" stroke-linecap="butt"/>
<line x1="265.50" y1="957.00" x2="265.50" y2="961.50" stroke="#111" stroke-width="1.4" stroke-linecap="butt"/>
<line x1="302.50" y1="957.00" x2="302.50" y2="961.50" stroke="#111" stroke-width="1.4" stroke-linecap="butt"/>
<line x1="339.50" y1="957.00" x2="339.50" y2="961.50" stroke="#111" stroke-width="1.4" stroke-linecap="butt"/>
<line x1="99.00" y1="957.00" x2="99.00" y2="959.80" stroke="#111" stroke-width="1.4" stroke-linecap="butt"/>
<line x1="136.00" y1="957.00" x2="136.00" y2="959.80" stroke="#111" stroke-width="1.4" stroke-linecap="butt"/>
<line x1="173.00" y1="957.00" x2="173.00" y2="959.80" stroke="#111" stroke-width="1.4" stroke-linecap="butt"/>
<line x1="210.00" y1="957.00" x2="210.00" y2="959.80" stroke="#111" stroke-width="1.4" stroke-linecap="butt"/>
<line x1="247.00" y1="957.00" x2="247.00" y2="959.80" stroke="#111" stroke-width="1.4" stroke-linecap="butt"/>
<line x1="284.00" y1="957.00" x2="284.00" y2="959.80" stroke="#111" stroke-width="1.4" stroke-linecap="butt"/>
<line x1="321.00" y1="957.00" x2="321.00" y2="959.80" stroke="#111" stroke-width="1.4" stroke-linecap="butt"/>
<line x1="422.70" y1="957.00" x2="422.70" y2="961.50" stroke="#111" stroke-width="1.4" stroke-linecap="butt"/>
<line x1="482.00" y1="957.00" x2="482.00" y2="959.80" stroke="#111" stroke-width="1.4" stroke-linecap="butt"/>
<text transform="translate(37.01,942.30) scale(0.9500,1)" font-size="20" font-weight="normal" letter-spacing="2.406" fill="#111" >0.0</text>
<text transform="translate(37.01,903.00) scale(0.9500,1)" font-size="20" font-weight="normal" letter-spacing="2.435" fill="#111" >0.5</text>
<text transform="translate(36.30,863.70) scale(0.9500,1)" font-size="20" font-weight="normal" letter-spacing="2.777" fill="#111" >1.0</text>
<text transform="translate(36.30,824.40) scale(0.9500,1)" font-size="20" font-weight="normal" letter-spacing="2.807" fill="#111" >1.5</text>
<text transform="translate(36.79,785.10) scale(0.9500,1)" font-size="20" font-weight="normal" letter-spacing="2.519" fill="#111" >2.0</text>
<text transform="translate(36.79,745.80) scale(0.9500,1)" font-size="20" font-weight="normal" letter-spacing="2.548" fill="#111" >2.5</text>
<text transform="translate(63.80,978.00) scale(0.9500,1)" font-size="19" font-weight="normal" letter-spacing="2.800" fill="#111" >-10</text>
<text transform="translate(110.98,978.00) scale(0.9500,1)" font-size="19" font-weight="normal" letter-spacing="0.000" fill="#111" >0</text>
<text transform="translate(142.83,978.00) scale(0.9500,1)" font-size="19" font-weight="normal" letter-spacing="2.950" fill="#111" >10</text>
<text transform="translate(178.29,978.00) scale(0.9500,1)" font-size="19" font-weight="normal" letter-spacing="4.564" fill="#111" >20</text>
<text transform="translate(215.51,978.00) scale(0.9500,1)" font-size="19" font-weight="normal" letter-spacing="4.332" fill="#111" >30</text>
<text transform="translate(252.79,978.00) scale(0.9500,1)" font-size="19" font-weight="normal" letter-spacing="4.044" fill="#111" >40</text>
<text transform="translate(289.48,978.00) scale(0.9500,1)" font-size="19" font-weight="normal" letter-spacing="4.369" fill="#111" >50</text>
<text transform="translate(324.58,978.00) scale(0.9500,1)" font-size="19" font-weight="normal" letter-spacing="5.047" fill="#111" >60</text>
<text transform="translate(404.88,978.00) scale(0.9500,1)" font-size="19" font-weight="normal" letter-spacing="1.429" fill="#111" >120</text>
<text transform="scale(1.04,1)" font-weight="normal" fill="#111" ><tspan x="121.12" y="1005.60" font-size="19.3" letter-spacing="2.810">recom</tspan><tspan x="189.62" y="1005.60" font-size="19.3" letter-spacing="1.664">binant </tspan><tspan x="256.54" y="1005.60" font-size="19.3" letter-spacing="1.430">protein</tspan><tspan x="327.80" y="1005.60" font-size="19.3" letter-spacing="0.000">, </tspan><tspan x="341.31" y="1005.60" font-size="19.3" letter-spacing="1.804">ng/tube</tspan></text>
<text transform="translate(22.60,912.50) rotate(-90) translate(-0.56,0.00) scale(0.8896,1)" font-size="20" font-weight="normal" letter-spacing="0.000" fill="#111" >Z, lytic sites/cell</text>
<text transform="scale(1.08,1)" font-weight="normal" fill="#111" ><tspan x="255.02" y="734.40" font-size="26" letter-spacing="-0.712">iC</tspan><tspan x="283.77" y="734.40" font-size="26" letter-spacing="0.000">3</tspan><tspan x="299.89" y="734.40" font-size="26" letter-spacing="0.000">b</tspan></text>
<text transform="translate(3.52,720.30) scale(0.8972,1)" font-size="33.5" font-weight="bold" letter-spacing="0.000" fill="#111" >C</text>
<path d="M118.35,937.50 L119.24,937.50 L120.98,937.50 L124.44,936.71 L131.38,935.93 L145.25,932.00 L173.00,927.28 L228.50,923.35 L339.50,916.28 L422.70,915.49" fill="none" stroke="#111" stroke-width="2.0" stroke-linejoin="round" stroke-linecap="round"/>
<path d="M118.35,937.50 L119.24,937.50 L120.98,935.14 L124.44,919.42 L131.38,891.13 L145.25,834.53 L173.00,744.14" fill="none" stroke="#111" stroke-width="2.4" stroke-linejoin="round" stroke-linecap="round"/>
<path d="M119.24,937.50 L120.98,937.50 L124.44,933.57 L131.38,911.56 L145.25,884.84 L173.00,847.90 L228.50,767.72" fill="none" stroke="#111" stroke-width="2.4" stroke-linejoin="round" stroke-linecap="round"/>
<rect x="112.60" y="933.25" width="11.5" height="8.5" fill="#111"/>
<rect x="113.49" y="933.25" width="11.5" height="8.5" fill="#111"/>
<rect x="115.23" y="933.25" width="11.5" height="8.5" fill="#111"/>
<rect x="118.69" y="932.46" width="11.5" height="8.5" fill="#111"/>
<rect x="125.62" y="931.68" width="11.5" height="8.5" fill="#111"/>
<rect x="139.50" y="927.75" width="11.5" height="8.5" fill="#111"/>
<rect x="167.25" y="923.03" width="11.5" height="8.5" fill="#111"/>
<rect x="222.75" y="919.10" width="11.5" height="8.5" fill="#111"/>
<rect x="333.75" y="912.03" width="11.5" height="8.5" fill="#111"/>
<rect x="416.95" y="911.24" width="11.5" height="8.5" fill="#111"/>
<polygon points="118.35,930.99 126.35,941.49 110.35,941.49" fill="#111"/>
<polygon points="119.24,930.99 127.24,941.49 111.24,941.49" fill="#111"/>
<polygon points="120.98,928.63 128.98,939.13 112.98,939.13" fill="#111"/>
<polygon points="124.44,912.91 132.44,923.41 116.44,923.41" fill="#111"/>
<polygon points="131.38,884.62 139.38,895.12 123.38,895.12" fill="#111"/>
<polygon points="145.25,828.02 153.25,838.52 137.25,838.52" fill="#111"/>
<polygon points="173.00,737.63 181.00,748.13 165.00,748.13" fill="#111"/>
<ellipse cx="119.24" cy="937.50" rx="6.5" ry="4.5" fill="#111"/>
<ellipse cx="120.98" cy="937.50" rx="6.5" ry="4.5" fill="#111"/>
<ellipse cx="124.44" cy="933.57" rx="6.5" ry="4.5" fill="#111"/>
<ellipse cx="131.38" cy="911.56" rx="6.5" ry="4.5" fill="#111"/>
<ellipse cx="145.25" cy="884.84" rx="6.5" ry="4.5" fill="#111"/>
<ellipse cx="173.00" cy="847.90" rx="6.5" ry="4.5" fill="#111"/>
<ellipse cx="228.50" cy="767.72" rx="6.5" ry="4.5" fill="#111"/>
<text transform="scale(1.06,1)" font-weight="normal" fill="#111" ><tspan x="173.87" y="758.70" font-size="19.5" letter-spacing="0.000">D</tspan><tspan x="190.32" y="750.60" font-size="12.4" letter-spacing="1.140" style="stroke-width:0.2px">254</tspan><tspan x="213.93" y="758.70" font-size="19.5" letter-spacing="0.000">G</tspan></text>
<text transform="scale(1.06,1)" font-weight="normal" fill="#111" ><tspan x="258.71" y="779.80" font-size="19.2" letter-spacing="0.000">K</tspan><tspan x="274.53" y="771.60" font-size="12.4" letter-spacing="0.577" style="stroke-width:0.2px">325</tspan><tspan x="296.95" y="779.80" font-size="19.2" letter-spacing="0.000">N</tspan></text>
<text transform="translate(465.01,932.00) scale(1.0600,1)" font-size="20" font-weight="normal" letter-spacing="1.717" fill="#111" >WT</text>
</svg>
</body></html>
